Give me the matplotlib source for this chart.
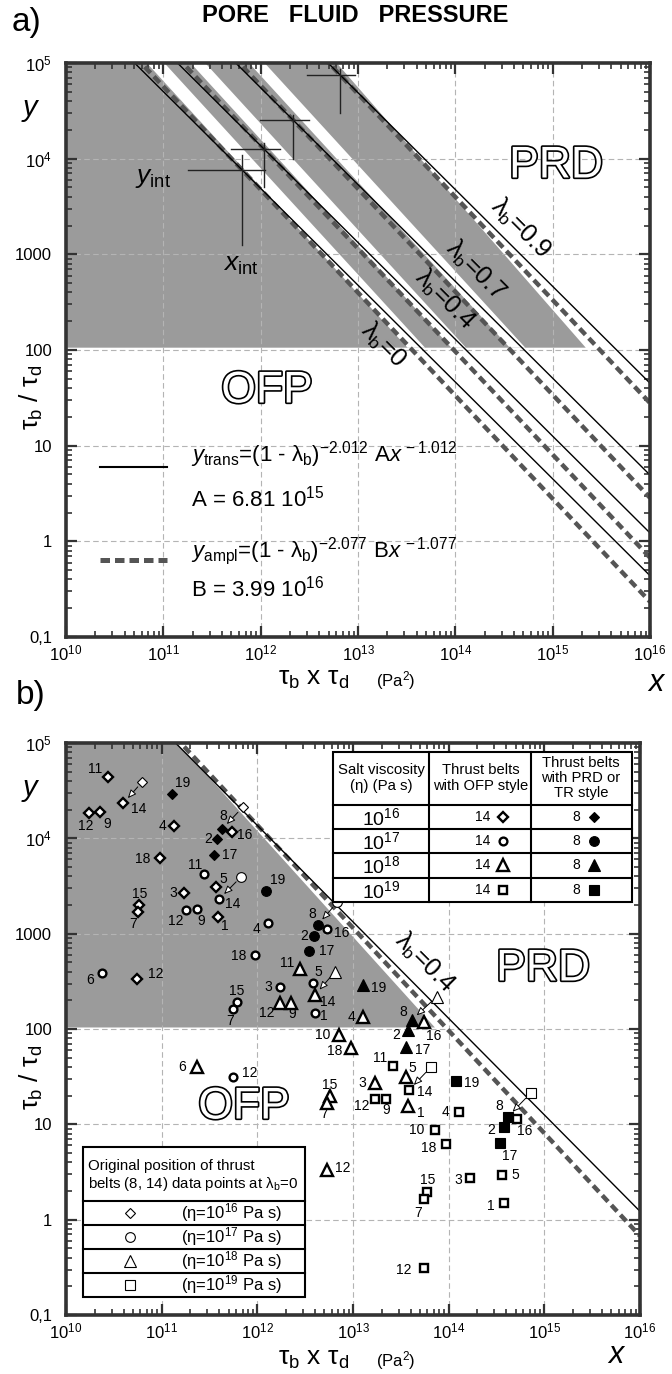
import numpy as np
import matplotlib
matplotlib.use("Agg")
import matplotlib.pyplot as plt
import matplotlib.patheffects as pe
from matplotlib.lines import Line2D
from matplotlib.patches import Rectangle
from matplotlib.ticker import LogLocator, NullFormatter

plt.rcParams['font.family'] = ['Liberation Sans', 'DejaVu Sans']
plt.rcParams['mathtext.fontset'] = 'custom'
plt.rcParams['mathtext.rm'] = 'Liberation Sans'
plt.rcParams['mathtext.it'] = 'Liberation Sans:italic'
plt.rcParams['mathtext.bf'] = 'Liberation Sans:bold'

# ---------------------------------------------------------------- data
A_coef = 6.81e15
trans_lam_exp = 2.012
trans_slope = 1.012
B_coef = 3.99e16
ampl_lam_exp = 2.077
ampl_slope = 1.077
lambdas_a = [0.0, 0.4, 0.7, 0.9]
lambda_names_a = ['0', '0.4', '0.7', '0.9']
lambda_b_panel = 0.4
shade_floor_a = 107.0
shade_floor_b = 105.0

x_ticks = [1e10, 1e11, 1e12, 1e13, 1e14, 1e15, 1e16]
x_tick_labels = [r'$10^{10}$', r'$10^{11}$', r'$10^{12}$', r'$10^{13}$',
                 r'$10^{14}$', r'$10^{15}$', r'$10^{16}$']
y_ticks = [0.1, 1, 10, 100, 1000, 1e4, 1e5]
y_tick_labels = ['0,1', '1', '10', '100', '1000', r'$10^{4}$', r'$10^{5}$']

prd_style_belts = ['19', '8', '2', '17']

# eta = 1e16 Pa s (diamonds)
d16_labels = ['11', '14', '12', '9', '19', '4', '18', '8', '2', '16', '17',
              '3', '5', '15', '7', '1', '12']
d16_x = [2.77e10, 3.97e10, 1.75e10, 2.26e10, 1.27e11, 1.35e11, 9.62e10,
         4.28e11, 3.82e11, 5.40e11, 3.52e11, 1.73e11, 3.70e11, 5.83e10,
         5.70e10, 3.85e11, 5.56e10]
d16_y = [4.44e4, 2.33e4, 1.83e4, 1.87e4, 2.92e4, 1.36e4, 6.22e3, 1.25e4,
         9.77e3, 1.16e4, 6.68e3, 2.69e3, 3.11e3, 2.01e3, 1.67e3, 1.51e3, 332]
d16_orig14 = (6.28e10, 3.93e4)
d16_orig8 = (7.03e11, 2.12e4)

# eta = 1e17 Pa s (circles)
d17_labels = ['11', '14', '12', '9', '19', '4', '8', '2', '16', '17', '18',
              '6', '3', '5', '15', '7', '1', '12']
d17_x = [2.79e11, 4.00e11, 1.78e11, 2.32e11, 1.23e12, 1.30e12, 4.27e12,
         3.91e12, 5.30e12, 3.49e12, 9.46e11, 2.36e10, 1.73e12, 3.78e12,
         6.08e11, 5.52e11, 4.01e12, 5.52e11]
d17_y = [4.20e3, 2.31e3, 1.77e3, 1.82e3, 2.82e3, 1.29e3, 1.24e3, 940,
         1.11e3, 652, 597, 385, 274, 302, 194, 161, 146, 31.6]
d17_orig14 = (6.75e11, 3.94e3)
d17_orig8 = (6.85e12, 2.13e3)

# eta = 1e18 Pa s (triangles)
d18_labels = ['11', '14', '12', '9', '19', '4', '8', '2', '16', '17', '10',
              '18', '3', '5', '1', '15', '7', '6', '12']
d18_x = [2.79e12, 4.01e12, 1.73e12, 2.23e12, 1.28e13, 1.28e13, 4.10e13,
         3.78e13, 5.52e13, 3.58e13, 7.19e12, 9.46e12, 1.70e13, 3.58e13,
         3.78e13, 5.74e12, 5.38e12, 2.32e11, 5.38e12]
d18_y = [423, 228, 189, 189, 290, 135, 124, 97.7, 119, 65.3, 86.5, 62.8,
         27.4, 31.6, 15.6, 19.8, 16.9, 40.3, 3.32]
d18_orig14 = (6.49e12, 399)
d18_orig8 = (7.50e13, 218)

# eta = 1e19 Pa s (squares)
d19_labels = ['11', '14', '12', '9', '19', '4', '10', '18', '8', '2', '16',
              '17', '3', '5', '1', '15', '7', '12']
d19_x = [2.64e13, 3.85e13, 1.70e13, 2.21e13, 1.19e14, 1.28e14, 7.19e13,
         9.31e13, 4.14e14, 3.78e14, 5.14e14, 3.44e14, 1.67e14, 3.61e14,
         3.78e14, 5.98e13, 5.56e13, 5.56e13]
d19_y = [40.9, 22.9, 18.3, 18.3, 28.5, 13.4, 8.73, 6.18, 12.0, 9.44, 11.3,
         6.43, 2.75, 2.94, 1.51, 1.96, 1.64, 0.309]
d19_orig14 = (6.49e13, 39.6)
d19_orig8 = (7.19e14, 21.2)

viscosity_exponents = [16, 17, 18, 19]

# label placement (pixel offsets of the number from its point; layout only)
d16_off = [(-13, -8), (15, 6), (-4, 13), (7, 12), (11, -11), (-12, 0),
           (-17, 1), (1, -13), (-9, 0), (13, 3), (16, 0), (-11, 0), (7, -8),
           (0, -11), (-5, 12), (7, 9), (18, -5)]
d17_off = [(-9, -9), (13, 5), (-10, 11), (5, 12), (12, -11), (-12, 6),
           (-5, -11), (-10, 0), (15, 4), (17, 0), (-16, 1), (-12, 7),
           (-12, 0), (6, -11), (0, -11), (-3, 12), (9, 3), (17, -4)]
d18_off = [(-13, -6), (13, 7), (-13, 10), (2, 11), (15, 3), (-12, 0),
           (-8, -8), (-12, 5), (10, 14), (17, 3), (-17, 0), (-16, 3),
           (-13, 0), (6, -9), (13, 7), (0, -11), (-3, 11), (-15, 0), (16, -2)]
d19_off = [(-13, -8), (16, 2), (-13, 7), (0, 11), (16, 2), (-13, 0),
           (-18, 0), (-17, 4), (-8, -11), (-13, 3), (8, 12), (10, 13),
           (-12, 2), (13, 0), (-13, 3), (0, -12), (-6, 14), (-21, 2)]

# shaded-zone outlines (hand-drawn straight bands in log-log space; layout)
band_slope = 0.90          # d(log x) / -d(log y)
strip_top_a = [(10.83, 11.01), (11.28, 11.43), (11.88, 12.04)]
gray_edge_top_a, gray_edge_slope_a = 12.78, 0.86
gray_edge_top_b, gray_edge_slope_b = 11.17, 0.90

# ---------------------------------------------------------------- helpers
W, H = 672, 1374
fig = plt.figure(figsize=(W / 100, H / 100), dpi=100)


def fx(p):
    return p / W


def fy(p):
    return 1 - p / H


def y_trans(x, lam):
    return (1 - lam) ** (-trans_lam_exp) * A_coef * x ** (-trans_slope)


def y_ampl(x, lam):
    return (1 - lam) ** (-ampl_lam_exp) * B_coef * x ** (-ampl_slope)


def x_trans(y, lam):
    return ((1 - lam) ** (-trans_lam_exp) * A_coef / y) ** (1 / trans_slope)


def x_ampl(y, lam):
    return ((1 - lam) ** (-ampl_lam_exp) * B_coef / y) ** (1 / ampl_slope)


def band_x(y, top_logx, slope):
    return 10 ** (top_logx + slope * (5 - np.log10(y)))


GRAY = '#9b9b9b'
SPINE = '#333333'
DASH_COL = '#555555'


def make_axes(left, top, right, bottom):
    ax = fig.add_axes([fx(left), fy(bottom), (right - left) / W, (bottom - top) / H])
    ax.set_xscale('log')
    ax.set_yscale('log')
    ax.set_xlim(1e10, 1e16)
    ax.set_ylim(0.1, 1e5)
    ax.set_xticks(x_ticks, labels=x_tick_labels)
    ax.set_yticks(y_ticks, labels=y_tick_labels)
    ax.xaxis.set_minor_locator(LogLocator(base=10, subs=np.arange(2, 10), numticks=30))
    ax.yaxis.set_minor_locator(LogLocator(base=10, subs=np.arange(2, 10), numticks=30))
    ax.xaxis.set_minor_formatter(NullFormatter())
    ax.yaxis.set_minor_formatter(NullFormatter())
    ax.tick_params(which='both', direction='in', top=True, right=True,
                   color=SPINE, labelsize=12)
    ax.tick_params(which='major', length=8, width=1.6)
    ax.tick_params(which='minor', length=4.5, width=1.2)
    ax.tick_params(axis='y', pad=10)
    ax.tick_params(axis='x', pad=5)
    for s in ax.spines.values():
        s.set_linewidth(2.6)
        s.set_color(SPINE)
        s.set_zorder(10)
    ax.grid(True, which='major', linestyle=(0, (5, 3)), color='#b4b4b4',
            linewidth=0.8, zorder=1)
    ax.set_axisbelow(False)
    return ax


def outlined(x, y, s, size):
    fig.text(fx(x), fy(y), s, fontsize=size, color='white', ha='center',
             va='center', zorder=20,
             path_effects=[pe.withStroke(linewidth=2.4, foreground='black')])


xs = np.logspace(10, 16, 500)

# ================================================================ panel a
axa = make_axes(66, 63, 650, 637)

ys_a = np.logspace(np.log10(shade_floor_a), 5, 600)
axa.fill_betweenx(ys_a, 1e10, band_x(ys_a, gray_edge_top_a, gray_edge_slope_a),
                  color=GRAY, lw=0, zorder=0.5)
for lo, hi in strip_top_a:
    axa.fill_betweenx(ys_a, band_x(ys_a, lo, band_slope), band_x(ys_a, hi, band_slope),
                      color='white', lw=0, zorder=0.6)

for lam in lambdas_a:
    axa.plot(xs, y_ampl(xs, lam), color=DASH_COL, lw=3.2,
             linestyle=(0, (1.9, 1.1)), zorder=3)
    axa.plot(xs, y_trans(xs, lam), color='black', lw=1.0, zorder=4)

# intersection crosses
x_int0 = (B_coef / A_coef) ** (1 / (ampl_slope - trans_slope))
y_int0 = A_coef * x_int0 ** (-trans_slope)
for i, lam in enumerate(lambdas_a):
    cx = x_int0 / (1 - lam)
    cy = y_int0 / (1 - lam)
    if i == 0:
        dl, dr, du, dd = 0.56, 0.23, 0.16, 0.78
    else:
        dl, dr, du, dd = 0.34, 0.16, 0.06, 0.40
    axa.plot([cx * 10 ** -dl, cx * 10 ** dr], [cy, cy], color='#222222', lw=1.0, zorder=5)
    axa.plot([cx, cx], [cy * 10 ** du, cy * 10 ** -dd], color='#222222', lw=1.0, zorder=5)

fig.text(fx(153), fy(178), r'$y_{\mathrm{int}}$', fontsize=19, ha='center', va='center')
fig.text(fx(241), fy(265), r'$x_{\mathrm{int}}$', fontsize=19, ha='center', va='center')

lam_pos_a = [(383, 345), (445, 300), (476, 270), (521, 228)]
for (px, py), nm in zip(lam_pos_a, lambda_names_a):
    fig.text(fx(px), fy(py), 'λ$_{\\mathrm{b}}$=' + nm, fontsize=18,
             rotation=-45, ha='center', va='center', zorder=20)

outlined(556, 166, 'PRD', 32)
outlined(267, 391, 'OFP', 32)

# legend (panel a)
fig.add_artist(Line2D([fx(100), fx(167)], [fy(467), fy(467)], color='black', lw=1.5))
fig.add_artist(Line2D([fx(100), fx(167)], [fy(560), fy(560)], color=DASH_COL,
                      lw=3.6, linestyle=(0, (1.9, 1.0))))
fig.text(fx(191), fy(462), r'$y_{\mathrm{trans}}$=(1 - λ$_{\mathrm{b}}$)$^{-2.012}$ A$x^{\,-1.012}$',
         fontsize=16, ha='left', va='baseline')
fig.text(fx(191), fy(507), r'A = 6.81 10$^{15}$', fontsize=16, ha='left', va='baseline')
fig.text(fx(191), fy(557), r'$y_{\mathrm{ampl}}$=(1 - λ$_{\mathrm{b}}$)$^{-2.077}$ B$x^{\,-1.077}$',
         fontsize=16, ha='left', va='baseline')
fig.text(fx(191), fy(597), r'B = 3.99 10$^{16}$', fontsize=16, ha='left', va='baseline')

# ================================================================ panel b
axb = make_axes(66, 743, 640, 1315)

ys_b = np.logspace(np.log10(shade_floor_b), 5, 600)
xr_b = np.minimum(np.minimum(x_trans(ys_b, lambda_b_panel), x_ampl(ys_b, lambda_b_panel)),
                  band_x(ys_b, gray_edge_top_b, gray_edge_slope_b))
axb.fill_betweenx(ys_b, 1e10, xr_b, color=GRAY, lw=0, zorder=0.5)
axb.plot(xs, y_ampl(xs, lambda_b_panel), color=DASH_COL, lw=3.2,
         linestyle=(0, (1.9, 1.1)), zorder=3)
axb.plot(xs, y_trans(xs, lambda_b_panel), color='black', lw=1.0, zorder=4)
fig.text(fx(425), fy(963), 'λ$_{\\mathrm{b}}$=0.4', fontsize=18, rotation=-45,
         ha='center', va='center', zorder=20)
outlined(543, 969, 'PRD', 32)
outlined(244, 1107, 'OFP', 32)

series = [
    dict(mk='D', ms=5.0, ms_f=5.6, lab=d16_labels, x=d16_x, y=d16_y, off=d16_off,
         o14=d16_orig14, o8=d16_orig8),
    dict(mk='o', ms=5.6, ms_f=7.0, lab=d17_labels, x=d17_x, y=d17_y, off=d17_off,
         o14=d17_orig14, o8=d17_orig8),
    dict(mk='^', ms=8.0, ms_f=8.5, lab=d18_labels, x=d18_x, y=d18_y, off=d18_off,
         o14=d18_orig14, o8=d18_orig8),
    dict(mk='s', ms=5.4, ms_f=6.6, lab=d19_labels, x=d19_x, y=d19_y, off=d19_off,
         o14=d19_orig14, o8=d19_orig8),
]

for s in series:
    for lab, xv, yv, (dx, dy) in zip(s['lab'], s['x'], s['y'], s['off']):
        filled = lab in prd_style_belts
        if filled:
            axb.plot(xv, yv, marker=s['mk'], ms=s['ms_f'], mfc='black', mec='black',
                     mew=0.8, zorder=6, clip_on=False)
        else:
            axb.plot(xv, yv, marker=s['mk'], ms=s['ms'], mfc='white', mec='black',
                     mew=1.7, zorder=6, clip_on=False)
        axb.annotate(lab, (xv, yv), xytext=(dx, -dy), textcoords='offset pixels',
                     ha='center', va='center', fontsize=10, zorder=7)
    for belt, orig in (('14', s['o14']), ('8', s['o8'])):
        k = s['lab'].index(belt)
        axb.annotate('', xy=(s['x'][k], s['y'][k]), xytext=orig,
                     arrowprops=dict(arrowstyle='-|>,head_length=0.5,head_width=0.22',
                                     lw=0.7, ec='black', fc='white',
                                     shrinkA=5, shrinkB=5), zorder=7)
        axb.plot(*orig, marker=s['mk'], ms=s['ms_f'], mfc='white', mec='black',
                 mew=0.8, zorder=8, clip_on=False)


def pixel_axes(x0, y0, x1, y1):
    a = fig.add_axes([fx(x0), fy(y1), (x1 - x0) / W, (y1 - y0) / H], zorder=30)
    a.set_xlim(x0, x1)
    a.set_ylim(y1, y0)
    a.axis('off')
    a.add_patch(Rectangle((x0, y0), x1 - x0, y1 - y0, fc='white', ec='black',
                          lw=1.5, clip_on=False, zorder=0))
    return a


# table
tab = pixel_axes(332.7, 751.7, 631.7, 901.7)
for xv in (429.3, 531):
    tab.plot([xv, xv], [751.7, 901.7], color='black', lw=1.5, clip_on=False)
rows = [805, 829, 853.3, 877.7]
for yv in rows:
    tab.plot([332.7, 631.7], [yv, yv], color='black', lw=1.5, clip_on=False)
tab.text(381, 778, 'Salt viscosity\n(η) (Pa s)', ha='center', va='center',
         fontsize=10.8, linespacing=1.2)
tab.text(480.5, 778, 'Thrust belts\nwith OFP style', ha='center', va='center',
         fontsize=10.6, linespacing=1.2)
tab.text(581, 778, 'Thrust belts\nwith PRD or\nTR style', ha='center', va='center',
         fontsize=10.6, linespacing=1.1)
row_c = [817, 841, 865.5, 889.7]
for s, e, yc in zip(series, viscosity_exponents, row_c):
    tab.text(381, yc + 1, r'$10^{%d}$' % e, ha='center', va='center', fontsize=14)
    tab.text(483, yc, '14', ha='center', va='center', fontsize=10)
    tab.plot(503, yc, marker=s['mk'], ms=s['ms'], mfc='white', mec='black', mew=1.7)
    tab.text(576, yc, '8', ha='center', va='center', fontsize=10)
    tab.plot(594, yc, marker=s['mk'], ms=s['ms_f'], mfc='black', mec='black', mew=0.8)

# legend box (original positions)
leg = pixel_axes(83.3, 1146.7, 305, 1296.7)
for yv in (1200.7, 1225, 1249.3, 1273.3):
    leg.plot([83.3, 305], [yv, yv], color='black', lw=1.5, clip_on=False)
leg.text(88.5, 1166, 'Original position of thrust', ha='left', va='center', fontsize=10.8)
leg.text(88.5, 1184, 'belts (8, 14) data points at λ$_{\\mathrm{b}}$=0', ha='left',
         va='center', fontsize=10.8)
for s, e, yc in zip(series, viscosity_exponents, [1213, 1237, 1261, 1285]):
    leg.plot(130, yc, marker=s['mk'], ms=s['ms_f'], mfc='white', mec='black', mew=0.8)
    leg.text(231, yc, r'(η=$10^{%d}$ Pa s)' % e, ha='center', va='center', fontsize=12)

# ================================================================ figure text
fig.text(fx(12), fy(22), 'a)', fontsize=24, ha='left', va='center')
fig.text(fx(16), fy(695), 'b)', fontsize=24, ha='left', va='center')
fig.text(fx(355), fy(16), 'PORE   FLUID   PRESSURE', fontsize=17, weight='bold',
         ha='center', va='center')

for off, xlab_pos in ((0, (657, 683)), (680, (617, 1355))):
    fig.text(fx(31), fy(110 + off), r'$y$', fontsize=21, ha='center', va='center')
    fig.text(fx(xlab_pos[0]), fy(xlab_pos[1]), r'$x$', fontsize=22, ha='center', va='center')
    fig.text(fx(31), fy(397 + off), 'τ$_{\\mathrm{b}}$ / τ$_{\\mathrm{d}}$', fontsize=19,
             rotation=90, ha='center', va='center')
    fig.text(fx(314), fy(679 + off), 'τ$_{\\mathrm{b}}$ x τ$_{\\mathrm{d}}$', fontsize=19,
             ha='center', va='center')
    fig.text(fx(396), fy(681 + off), '(Pa$^2$)', fontsize=12, ha='center', va='center')

fig.savefig('out.png', dpi=100)
